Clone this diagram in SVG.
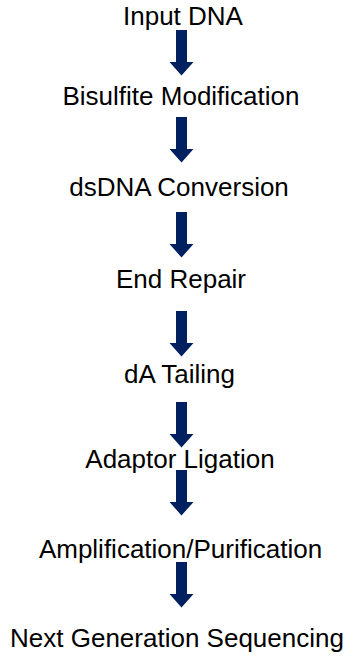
<svg xmlns="http://www.w3.org/2000/svg" width="355" height="657" viewBox="0 0 355 657">
<style>
  .lbl { font-family: "Liberation Sans", Arial, sans-serif; font-size: 26px; fill: #000; text-anchor: middle; }
  .arr { fill: #002060; }
</style>
<defs>
  <path id="arrow" d="M -5.5 0 H 5.5 V 32 H 12 L 0 45.5 L -12 32 H -5.5 Z"/>
</defs>
<rect width="355" height="657" fill="#fff"/>
<g id="n1"><text class="lbl" x="183" y="25">Input DNA</text></g>
<g id="n2"><text class="lbl" x="181" y="105">Bisulfite Modification</text></g>
<g id="n3"><text class="lbl" x="179" y="196">dsDNA Conversion</text></g>
<g id="n4"><text class="lbl" x="181" y="288">End Repair</text></g>
<g id="n5"><text class="lbl" x="179.5" y="383">dA Tailing</text></g>
<g id="n6"><text class="lbl" x="180" y="468">Adaptor Ligation</text></g>
<g id="n7"><text class="lbl" x="180.5" y="558">Amplification/Purification</text></g>
<g id="n8"><text class="lbl" x="177" y="647">Next Generation Sequencing</text></g>
<g id="connectors" class="arr">
  <use href="#arrow" x="181.5" y="30"/>
  <use href="#arrow" x="181.5" y="117"/>
  <use href="#arrow" x="181.5" y="212"/>
  <use href="#arrow" x="181.5" y="311"/>
  <use href="#arrow" x="181.5" y="402"/>
  <use href="#arrow" x="181.5" y="470"/>
  <use href="#arrow" x="181.5" y="562"/>
</g>
</svg>
